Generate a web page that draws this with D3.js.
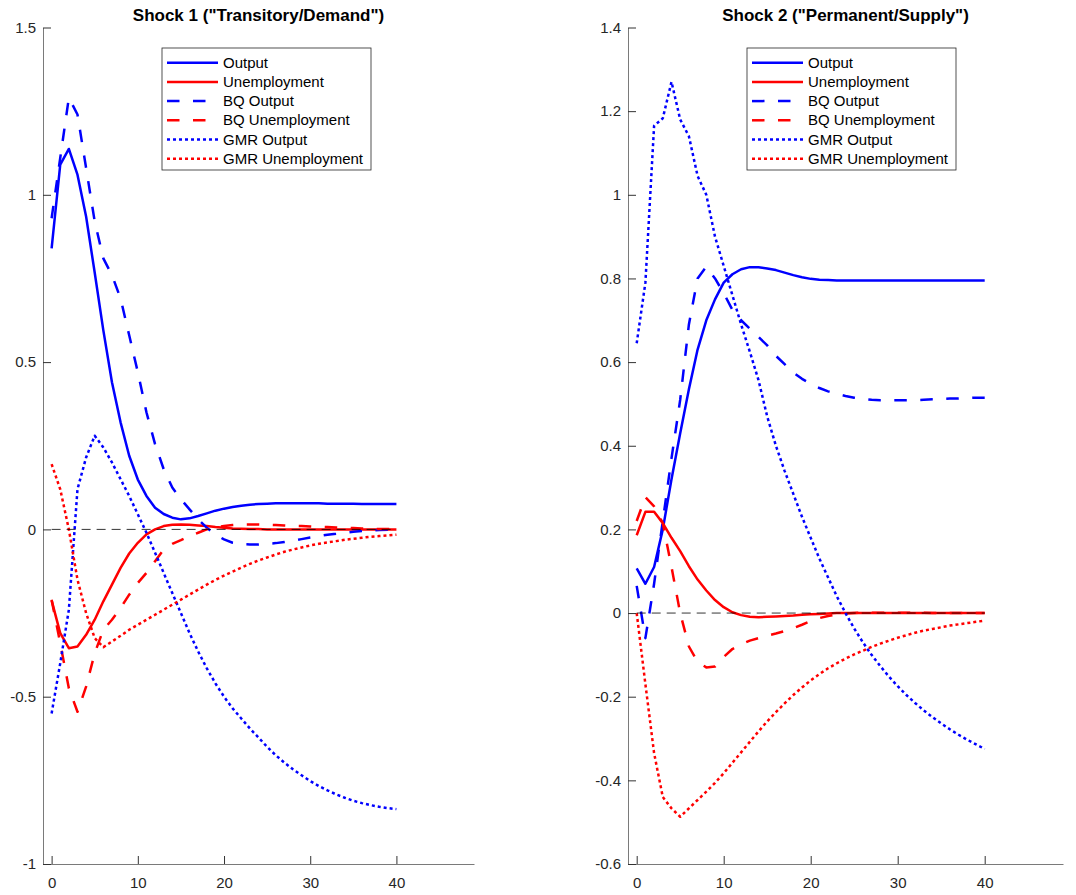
<!DOCTYPE html>
<html>
<head>
<meta charset="utf-8">
<script src="https://cdn.jsdelivr.net/npm/d3@7"></script>
<style>
body { margin: 0; background: #fff; }
svg { display: block; font-family: "Liberation Sans", Arial, sans-serif; }
</style>
</head>
<body>
<svg id="chart" width="1076" height="895"></svg>
<script>
let horizons = d3.range(0, 41);
let x_ticks = [0, 10, 20, 30, 40];
let s1_y_ticks = [-1, -0.5, 0, 0.5, 1, 1.5];
let s2_y_ticks = [-0.6, -0.4, -0.2, 0, 0.2, 0.4, 0.6, 0.8, 1, 1.2, 1.4];
let series_names = ["Output", "Unemployment", "BQ Output", "BQ Unemployment", "GMR Output", "GMR Unemployment"];

// shock 1 (transitory / demand)
let s1_output = [
    0.84, 1.09, 1.137, 1.06, 0.935, 0.767, 0.595, 0.44, 0.32, 0.22,
    0.149, 0.1, 0.065, 0.046, 0.035, 0.03, 0.033, 0.04, 0.048, 0.056,
    0.062, 0.067, 0.071, 0.074, 0.076, 0.077, 0.078, 0.078, 0.078, 0.078,
    0.078, 0.078, 0.077, 0.077, 0.077, 0.077, 0.076, 0.076, 0.076, 0.076,
    0.076];
let s1_unemp = [
    -0.212, -0.31, -0.355, -0.35, -0.315, -0.27, -0.215, -0.165, -0.115, -0.072,
    -0.04, -0.015, 0.0, 0.01, 0.014, 0.015, 0.014, 0.012, 0.01, 0.007,
    0.005, 0.003, 0.002, 0.001, 0.001, 0, 0, 0, 0, 0,
    0, 0, 0, 0, 0, 0, 0, 0, 0, 0,
    0];
let s1_bq_output = [
    0.93, 1.11, 1.29, 1.24, 1.08, 0.92, 0.81, 0.76, 0.69, 0.58,
    0.47, 0.35, 0.255, 0.18, 0.125, 0.09, 0.06, 0.03, 0.005, -0.015,
    -0.03, -0.04, -0.044, -0.045, -0.045, -0.043, -0.041, -0.038, -0.034, -0.029,
    -0.024, -0.02, -0.016, -0.013, -0.01, -0.007, -0.005, -0.003, -0.002, -0.001,
    0];
let s1_bq_unemp = [
    -0.21, -0.34, -0.475, -0.545, -0.47, -0.37, -0.3, -0.27, -0.235, -0.195,
    -0.16, -0.13, -0.095, -0.06, -0.043, -0.032, -0.02, -0.01, 0.0, 0.006,
    0.01, 0.013, 0.015, 0.015, 0.015, 0.014, 0.013, 0.012, 0.011, 0.01,
    0.009, 0.008, 0.007, 0.006, 0.005, 0.004, 0.003, 0.002, 0.001, 0.001,
    0];
let s1_gmr_output = [
    -0.55, -0.4, -0.24, 0.12, 0.215, 0.28, 0.245, 0.2, 0.15, 0.1,
    0.045, -0.01, -0.07, -0.13, -0.19, -0.25, -0.31, -0.365, -0.415, -0.46,
    -0.5, -0.535, -0.565, -0.595, -0.622, -0.65, -0.675, -0.697, -0.717, -0.735,
    -0.752, -0.767, -0.78, -0.792, -0.802, -0.811, -0.818, -0.824, -0.829, -0.833,
    -0.836];
let s1_gmr_unemp = [
    0.195, 0.12, 0.0, -0.15, -0.25, -0.325, -0.352, -0.335, -0.318, -0.3,
    -0.285, -0.27, -0.255, -0.24, -0.225, -0.21, -0.195, -0.18, -0.165, -0.151,
    -0.138, -0.126, -0.114, -0.103, -0.093, -0.084, -0.075, -0.067, -0.06, -0.054,
    -0.048, -0.043, -0.039, -0.035, -0.031, -0.028, -0.025, -0.022, -0.02, -0.018,
    -0.016];

// shock 2 (permanent / supply)
let s2_output = [
    0.107, 0.07, 0.11, 0.2, 0.32, 0.43, 0.535, 0.63, 0.7, 0.75,
    0.79, 0.81, 0.822, 0.827, 0.827, 0.824, 0.82, 0.814, 0.808, 0.803,
    0.799, 0.797, 0.796, 0.795, 0.795, 0.795, 0.795, 0.795, 0.795, 0.795,
    0.795, 0.795, 0.795, 0.795, 0.795, 0.795, 0.795, 0.795, 0.795, 0.795,
    0.795];
let s2_unemp = [
    0.186, 0.242, 0.242, 0.215, 0.18, 0.148, 0.112, 0.08, 0.054, 0.031,
    0.014, 0.002, -0.005, -0.009, -0.01, -0.009, -0.008, -0.007, -0.006, -0.004,
    -0.003, -0.002, -0.001, 0, 0, 0, 0, 0, 0, 0,
    0, 0, 0, 0, 0, 0, 0, 0, 0, 0,
    0];
let s2_bq_output = [
    0.065, -0.06, 0.07, 0.22, 0.37, 0.51, 0.69, 0.8, 0.828, 0.8,
    0.765, 0.725, 0.7, 0.68, 0.66, 0.64, 0.615, 0.595, 0.575, 0.56,
    0.548, 0.538, 0.53, 0.524, 0.519, 0.515, 0.512, 0.51, 0.509, 0.509,
    0.509, 0.509, 0.509, 0.51, 0.511, 0.512, 0.513, 0.513, 0.514, 0.515,
    0.515];
let s2_bq_unemp = [
    0.22, 0.277, 0.255, 0.215, 0.11, 0.0, -0.08, -0.117, -0.13, -0.128,
    -0.105, -0.086, -0.075, -0.066, -0.06, -0.054, -0.049, -0.043, -0.036, -0.028,
    -0.019, -0.012, -0.007, -0.003, -0.001, 0, 0.001, 0.001, 0.001, 0.001,
    0.001, 0.001, 0.001, 0.001, 0, 0, 0, 0, 0, 0,
    0];
let s2_gmr_output = [
    0.645, 0.79, 1.165, 1.183, 1.27, 1.18, 1.14, 1.045, 1.0, 0.9,
    0.83, 0.76, 0.69, 0.625, 0.557, 0.47, 0.4, 0.34, 0.285, 0.23,
    0.18, 0.13, 0.085, 0.04, 0.0, -0.037, -0.07, -0.1, -0.127, -0.152,
    -0.175, -0.196, -0.215, -0.233, -0.249, -0.264, -0.278, -0.291, -0.303, -0.314,
    -0.325];
let s2_gmr_unemp = [
    0, -0.17, -0.335, -0.44, -0.467, -0.487, -0.467, -0.447, -0.427, -0.406,
    -0.383, -0.358, -0.333, -0.308, -0.283, -0.259, -0.237, -0.216, -0.196, -0.178,
    -0.161, -0.146, -0.132, -0.12, -0.109, -0.099, -0.09, -0.081, -0.073, -0.066,
    -0.059, -0.053, -0.047, -0.042, -0.038, -0.034, -0.03, -0.027, -0.024, -0.021,
    -0.018];

// line styles, same order as series_names
let line_colors = ["#0000ff", "#ff0000", "#0000ff", "#ff0000", "#0000ff", "#ff0000"];
let line_dashes = [null, null, "12.5,13.5", "12.5,13.5", "3,3", "3,3"];

let panels = [
    {
        "title": 'Shock 1 ("Transitory/Demand")',
        "series": [s1_output, s1_unemp, s1_bq_output, s1_bq_unemp, s1_gmr_output, s1_gmr_unemp],
        "y_domain": [-1, 1.5],
        "y_ticks": s1_y_ticks,
        "left": 43, "right": 474,
    },
    {
        "title": 'Shock 2 ("Permanent/Supply")',
        "series": [s2_output, s2_unemp, s2_bq_output, s2_bq_unemp, s2_gmr_output, s2_gmr_unemp],
        "y_domain": [-0.6, 1.4],
        "y_ticks": s2_y_ticks,
        "left": 628, "right": 1063,
    },
];

let top_y = 27.5, bottom_y = 864;

function draw_panel(svg, p) {
    let x = d3.scaleLinear().domain([-1, 49]).range([p.left, p.right]);
    let y = d3.scaleLinear().domain(p.y_domain).range([bottom_y, top_y]);
    let g = svg.append("g");

    let line = d3.line()
        .x((d, i) => x(horizons[i]))
        .y(d => y(d));

    p.series.forEach((values, k) => {
        g.append("path")
            .datum(values)
            .attr("fill", "none")
            .attr("stroke", line_colors[k])
            .attr("stroke-width", 2.5)
            .attr("stroke-dasharray", line_dashes[k])
            .attr("stroke-linejoin", "round")
            .attr("d", line);
    });

    // zero reference line
    g.append("line")
        .attr("x1", x(0)).attr("x2", x(40))
        .attr("y1", y(0)).attr("y2", y(0))
        .attr("stroke", "#000")
        .attr("stroke-width", 0.8)
        .attr("stroke-dasharray", "9,6");

    let x_axis = g.append("g")
        .attr("transform", `translate(0, ${bottom_y})`)
        .call(d3.axisBottom(x).tickValues(x_ticks).tickSizeInner(-8).tickSizeOuter(0).tickPadding(13)
            .tickFormat(d => String(d)));
    let y_axis = g.append("g")
        .attr("transform", `translate(${p.left}, 0)`)
        .call(d3.axisLeft(y).tickValues(p.y_ticks).tickSizeInner(-8).tickSizeOuter(0).tickPadding(7)
            .tickFormat(d => String(d)));
    [x_axis, y_axis].forEach(a => {
        a.select(".domain").attr("stroke", "#7a7a7a").attr("stroke-width", 1);
        a.selectAll(".tick line").attr("stroke", "#333");
        a.selectAll(".tick text").attr("fill", "#262626").style("font-size", "15px")
            .style("font-family", '"Liberation Sans", Arial, sans-serif');
    });

    g.append("text")
        .attr("x", (p.left + p.right) / 2)
        .attr("y", 21)
        .attr("text-anchor", "middle")
        .style("font-size", "17px")
        .style("font-weight", "bold")
        .text(p.title);

    // legend
    let lx = p.left + 119, ly = 48;
    let legend = g.append("g");
    legend.append("rect")
        .attr("x", lx).attr("y", ly)
        .attr("width", 209).attr("height", 122)
        .attr("fill", "#fff")
        .attr("stroke", "#262626")
        .attr("stroke-width", 0.8);
    series_names.forEach((name, k) => {
        let ry = ly + 14.7 + k * 19.2;
        legend.append("line")
            .attr("x1", lx + 5).attr("x2", lx + 56)
            .attr("y1", ry).attr("y2", ry)
            .attr("stroke", line_colors[k])
            .attr("stroke-width", 2.5)
            .attr("stroke-dasharray", line_dashes[k]);
        legend.append("text")
            .attr("x", lx + 61)
            .attr("y", ry + 5)
            .style("font-size", "15px")
            .attr("fill", "#000")
            .text(name);
    });
}

let svg = d3.select("#chart");
panels.forEach(p => draw_panel(svg, p));
</script>
</body>
</html>
